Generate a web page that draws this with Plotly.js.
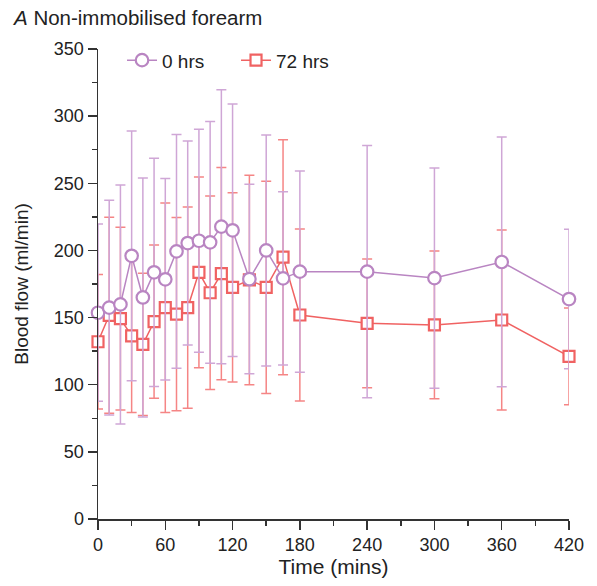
<!DOCTYPE html>
<html>
<head>
<meta charset="utf-8">
<script src="https://cdn.plot.ly/plotly-3.0.1.min.js"></script>
<style>html,body{margin:0;padding:0;background:#fff;}#chart{width:597px;height:586px;}</style>
</head>
<body>
<div id="chart"></div>
<script>
// Time points (minutes)
const timeMins = [0, 10, 20, 30, 40, 50, 60, 70, 80, 90, 100, 110, 120, 135, 150, 165, 180, 240, 300, 360, 420];

// 0 hrs series: mean blood flow (ml/min) and error
const flow0h = [153.6, 157.4, 159.8, 196, 165, 183.7, 178.5, 199.3, 205.5, 207.2, 206, 217.7, 215, 178.7, 200, 179.2, 184.2, 184.2, 179.4, 191.4, 163.8];
const err0h  = [66, 80, 89, 93, 89, 85, 75, 87, 76, 83, 90, 102, 94, 70.5, 86, 64.5, 75, 94, 82, 93, 52];

// 72 hrs series: mean blood flow (ml/min) and error
const flow72h = [132, 151.7, 149.2, 136.3, 130, 147, 157.4, 152.6, 157.4, 183.7, 168.5, 182.7, 172.5, 178, 172.5, 195, 151.9, 145.7, 144.5, 148.2, 121.1];
const err72h  = [50, 73, 68, 57, 53, 57, 78, 72, 75, 71, 72, 79, 70.5, 78, 79, 87.5, 64, 48, 55, 67, 36];

// Tick labels
const xTicks = [0, 60, 120, 180, 240, 300, 360, 420];
const yTicks = [0, 50, 100, 150, 200, 250, 300, 350];

const seriesNames = ['0 hrs', '72 hrs'];

const purple = '#b985c2';
const purpleBar = '#cfa6d6';
const red = '#f06262';
const redBar = '#f58585';

const FONT = 'Liberation Sans, Arial, Helvetica, sans-serif';

const traces = [
  {
    x: timeMins, y: flow72h, name: seriesNames[1], type: 'scatter', mode: 'lines+markers',
    cliponaxis: false, legendrank: 2,
    line: {color: red, width: 1.5},
    marker: {symbol: 'square', size: 11, color: '#ffffff', line: {color: red, width: 2.2}},
    error_y: {type: 'data', array: err72h, visible: true, color: redBar, thickness: 1.5, width: 5}
  },
  {
    x: timeMins, y: flow0h, name: seriesNames[0], type: 'scatter', mode: 'lines+markers',
    cliponaxis: false, legendrank: 1,
    line: {color: purple, width: 1.5},
    marker: {symbol: 'circle', size: 12.5, color: '#ffffff', line: {color: purple, width: 2.2}},
    error_y: {type: 'data', array: err0h, visible: true, color: purpleBar, thickness: 1.5, width: 5}
  }
];

const axisCommon = {
  showline: true, linecolor: '#333', linewidth: 1.5,
  ticks: 'outside', ticklen: 9, tickwidth: 1.5, tickcolor: '#333',
  showgrid: false, zeroline: false,
  tickfont: {family: FONT, size: 18, color: '#222'}
};

const layout = {
  width: 597, height: 586,
  margin: {l: 98, r: 28, t: 49, b: 67, pad: 0},
  paper_bgcolor: '#fff', plot_bgcolor: '#fff',
  font: {family: FONT, color: '#222'},
  showlegend: true,
  title: {
    text: '<i>A</i> Non-immobilised forearm',
    font: {family: FONT, size: 20.5, color: '#222'},
    xref: 'container', yref: 'container', x: 14/597, xanchor: 'left', y: 1 - 18/586, yanchor: 'middle'
  },
  legend: {
    orientation: 'h', x: 0.051, xanchor: 'left', y: 0.976, yanchor: 'middle',
    font: {family: FONT, size: 19, color: '#222'},
    entrywidth: 69, entrywidthmode: 'pixels',
    bgcolor: 'rgba(0,0,0,0)', traceorder: 'normal'
  },
  xaxis: Object.assign({}, axisCommon, {
    range: [0, 420], tickmode: 'array', tickvals: xTicks, ticktext: xTicks.map(String),
    minor: {dtick: 30, ticks: 'outside', ticklen: 5, tickwidth: 1.5, tickcolor: '#333', showgrid: false},
    title: {text: 'Time (mins)', font: {family: FONT, size: 21, color: '#222'}, standoff: 4}
  }),
  yaxis: Object.assign({}, axisCommon, {
    range: [0, 350], tickmode: 'array', tickvals: yTicks, ticktext: yTicks.map(String),
    minor: {dtick: 25, ticks: 'outside', ticklen: 5, tickwidth: 1.5, tickcolor: '#333', showgrid: false},
    title: {text: 'Blood flow (ml/min)', font: {family: FONT, size: 19, color: '#222'}, standoff: 20}
  })
};

Plotly.newPlot('chart', traces, layout, {displayModeBar: false, staticPlot: true});
</script>
</body>
</html>
